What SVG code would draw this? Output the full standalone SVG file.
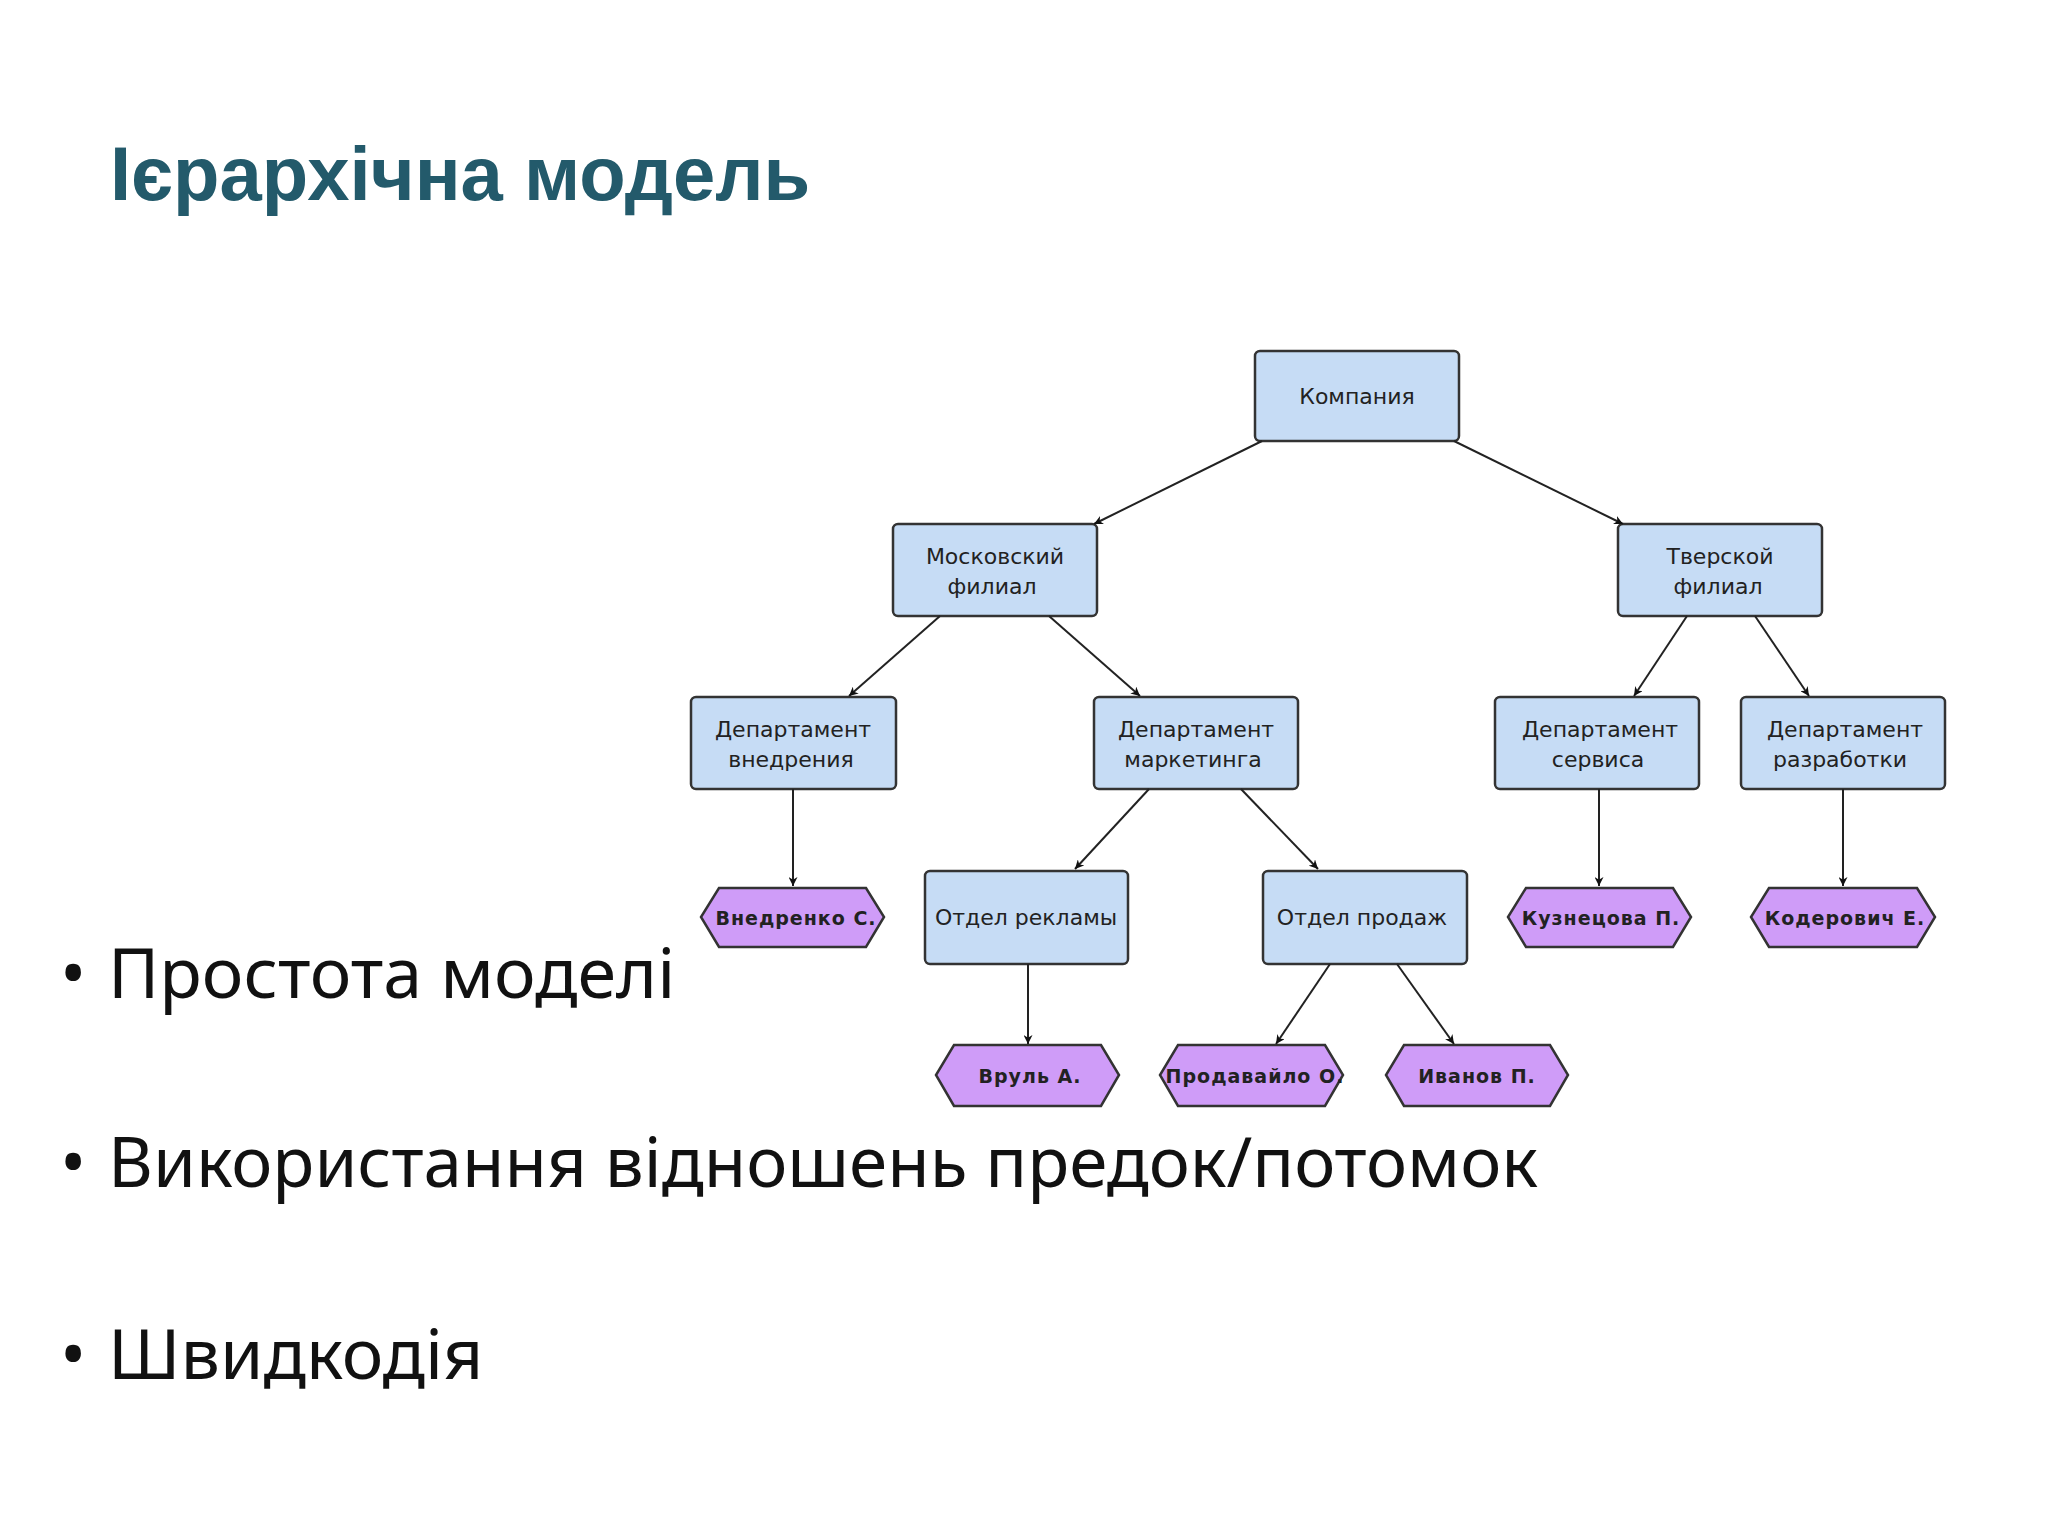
<svg xmlns="http://www.w3.org/2000/svg" width="2048" height="1536" viewBox="0 0 2048 1536">
<style>
.box{fill:#c6dcf5;stroke:#333;stroke-width:2.5}
.hex{fill:#cf9cf8;stroke:#333;stroke-width:2.5}
.bt{font-family:"DejaVu Sans",sans-serif;font-size:22px;fill:#222;text-anchor:middle}
.ht{font-family:"DejaVu Sans",sans-serif;font-size:19px;font-weight:bold;fill:#222;text-anchor:middle;letter-spacing:1px}
.con line{stroke:#222;stroke-width:2;marker-end:url(#ah)}
.bul{font-family:"Noto Sans",sans-serif;font-size:70px;fill:#111}
</style>
<defs><marker id="ah" viewBox="0 0 10 10" refX="10" refY="5" markerWidth="9" markerHeight="9" markerUnits="userSpaceOnUse" orient="auto"><path d="M0,0 L10,5 L0,10 L3,5 z" fill="#111"/></marker>
<marker id="ah2" viewBox="0 0 10 10" refX="10" refY="5" markerWidth="9" markerHeight="9" orient="auto"><path d="M0,0 L10,5 L0,10 L3,5 z" fill="#111"/></marker></defs>
<rect width="2048" height="1536" fill="#fff"/>
<text x="110" y="200" font-family="Liberation Sans,Arial,sans-serif" font-weight="bold" font-size="76" fill="#235a6b">Ієрархічна модель</text>
<g id="n1"><rect class="box" x="1255" y="351" width="204" height="90" rx="5"/><text class="bt" x="1357" y="404">Компания</text></g>
<g id="n2"><rect class="box" x="893" y="524" width="204" height="92" rx="5"/><text class="bt" x="995" y="564">Московский</text><text class="bt" x="992" y="594">филиал</text></g>
<g id="n3"><rect class="box" x="1618" y="524" width="204" height="92" rx="5"/><text class="bt" x="1720" y="564">Тверской</text><text class="bt" x="1718" y="594">филиал</text></g>
<g id="n4"><rect class="box" x="691" y="697" width="205" height="92" rx="5"/><text class="bt" x="793" y="737">Департамент</text><text class="bt" x="791" y="767">внедрения</text></g>
<g id="n5"><rect class="box" x="1094" y="697" width="204" height="92" rx="5"/><text class="bt" x="1196" y="737">Департамент</text><text class="bt" x="1193" y="767">маркетинга</text></g>
<g id="n6"><rect class="box" x="1495" y="697" width="204" height="92" rx="5"/><text class="bt" x="1600" y="737">Департамент</text><text class="bt" x="1598" y="767">сервиса</text></g>
<g id="n7"><rect class="box" x="1741" y="697" width="204" height="92" rx="5"/><text class="bt" x="1845" y="737">Департамент</text><text class="bt" x="1840" y="767">разработки</text></g>
<g id="n8"><rect class="box" x="925" y="871" width="203" height="93" rx="5"/><text class="bt" x="1026" y="925">Отдел рекламы</text></g>
<g id="n9"><rect class="box" x="1263" y="871" width="204" height="93" rx="5"/><text class="bt" x="1362" y="925">Отдел продаж</text></g>
<g id="h1"><polygon class="hex" points="719,888 866,888 884,917 866,947 719,947 701,917"/><text class="ht" x="796" y="925">Внедренко С.</text></g>
<g id="h2"><polygon class="hex" points="1526,888 1673,888 1691,917 1673,947 1526,947 1508,917"/><text class="ht" x="1601" y="925">Кузнецова П.</text></g>
<g id="h3"><polygon class="hex" points="1769,888 1917,888 1935,917 1917,947 1769,947 1751,917"/><text class="ht" x="1845" y="925">Кодерович Е.</text></g>
<g id="h4"><polygon class="hex" points="954,1045 1101,1045 1119,1075 1101,1106 954,1106 936,1075"/><text class="ht" x="1030" y="1083">Вруль А.</text></g>
<g id="h5"><polygon class="hex" points="1178,1045 1325,1045 1343,1075 1325,1106 1178,1106 1160,1075"/><text class="ht" x="1255" y="1083">Продавайло О.</text></g>
<g id="h6"><polygon class="hex" points="1404,1045 1550,1045 1568,1075 1550,1106 1404,1106 1386,1075"/><text class="ht" x="1477" y="1083">Иванов П.</text></g>
<g class="con">
<line x1="1262" y1="441" x2="1094" y2="524"/>
<line x1="1454" y1="441" x2="1623" y2="524"/>
<line x1="940" y1="616" x2="849" y2="696"/>
<line x1="1049" y1="616" x2="1140" y2="696"/>
<line x1="1687" y1="616" x2="1634" y2="696"/>
<line x1="1755" y1="616" x2="1809" y2="696"/>
<line x1="793" y1="789" x2="793" y2="886"/>
<line x1="1149" y1="789" x2="1075" y2="869"/>
<line x1="1241" y1="789" x2="1318" y2="869"/>
<line x1="1599" y1="789" x2="1599" y2="886"/>
<line x1="1843" y1="789" x2="1843" y2="886"/>
<line x1="1028" y1="964" x2="1028" y2="1044"/>
<line x1="1330" y1="964" x2="1276" y2="1044"/>
<line x1="1397" y1="964" x2="1454" y2="1044"/>
</g>
<g class="bul">
<text x="60" y="998">•</text><text x="108" y="998">Простота моделі</text>
<text x="60" y="1187">•</text><text x="108" y="1187" textLength="1430" lengthAdjust="spacingAndGlyphs">Використання відношень предок/потомок</text>
<text x="60" y="1379">•</text><text x="108" y="1379">Швидкодія</text>
</g>
</svg>
